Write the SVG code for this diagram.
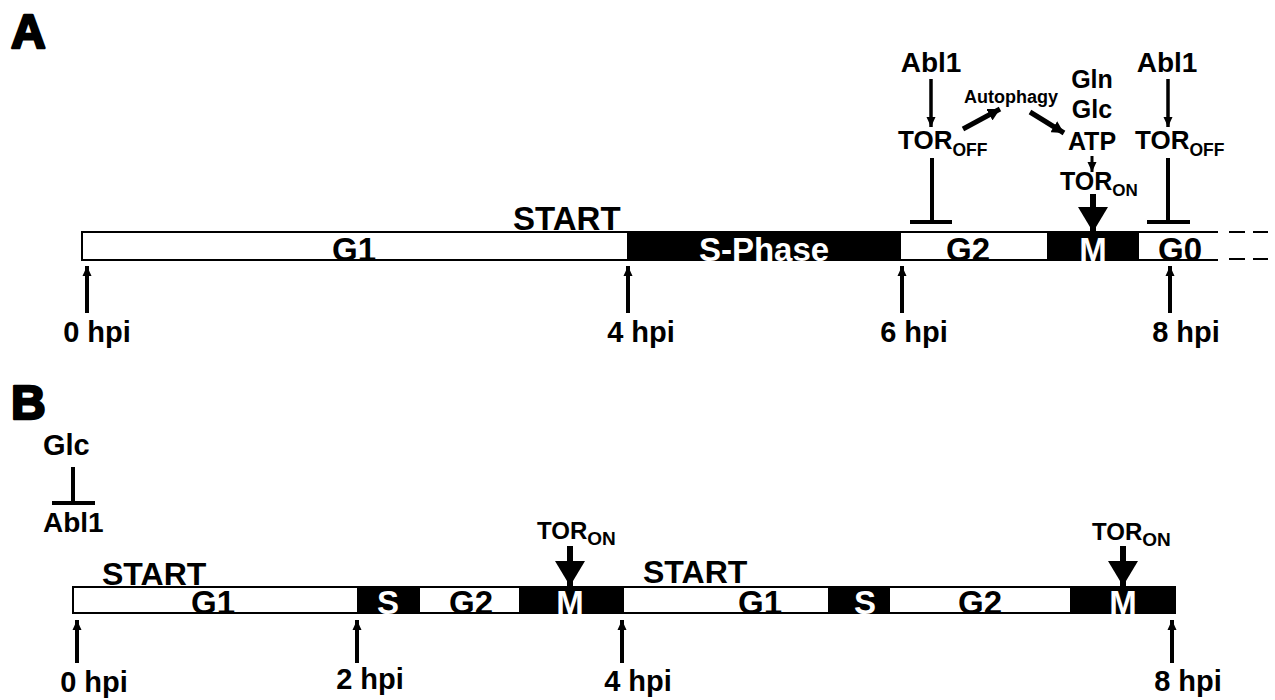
<svg xmlns="http://www.w3.org/2000/svg" width="1275" height="700" viewBox="0 0 1275 700">
<style>
text{font-family:"Liberation Sans",Arial,sans-serif;font-weight:bold;fill:#000}
.ph{font-size:33px;text-anchor:middle}
.w{fill:#fff}
.hpi{font-size:29px;text-anchor:middle}
.lbl{font-size:48px;stroke:#000;stroke-width:2.5;stroke-linejoin:round}
.ln{stroke:#000;fill:none}
.bar{stroke:#000;stroke-width:2;fill:none}
.dash{stroke:#000;stroke-width:2}
</style>
<defs>
<marker id="sm" markerUnits="userSpaceOnUse" markerWidth="10" markerHeight="10" refX="10" refY="5" orient="auto"><path d="M0,0.5 L10,5 L0,9.5 z" fill="#000"/></marker>
<marker id="md" markerUnits="userSpaceOnUse" markerWidth="13" markerHeight="13" refX="12" refY="6.5" orient="auto"><path d="M0,0 L12,6.5 L0,13 z" fill="#000"/></marker>
<marker id="big" markerUnits="userSpaceOnUse" markerWidth="26" markerHeight="30" refX="25" refY="15" orient="auto"><path d="M0,0 L25,15 L0,30 z" fill="#000"/></marker>
</defs>

<text class="lbl" x="11" y="48">A</text>
<text class="lbl" x="11" y="419">B</text>

<!-- Panel A bar -->
<g id="barA">
<rect x="82" y="232" width="1136" height="28" fill="#fff"/>
<rect x="627" y="232" width="274" height="28" fill="#000"/>
<rect x="1047" y="232" width="92" height="28" fill="#000"/>
<path class="bar" d="M1218,232 H82 V260 H1218"/>
<line class="dash" x1="1229" y1="232" x2="1245" y2="232"/>
<line class="dash" x1="1253" y1="232" x2="1268" y2="232"/>
<line class="dash" x1="1229" y1="259" x2="1245" y2="259"/>
<line class="dash" x1="1253" y1="259" x2="1268" y2="259"/>
</g>
<g id="phasesA">
<text class="ph" x="354" y="261">G1</text>
<text class="ph w" x="764" y="261">S-Phase</text>
<text class="ph" x="968" y="261">G2</text>
<text class="ph w" x="1093" y="261">M</text>
<text class="ph" x="1180" y="261">G0</text>
<text x="513" y="230" font-size="33">START</text>
</g>

<g id="nodesA">
<g id="abl1-a"><text x="931" y="72" font-size="28" text-anchor="middle">Abl1</text></g>
<g id="toroff-a"><text x="898" y="149" font-size="26">TOR<tspan font-size="17.5" dy="7">OFF</tspan></text></g>
<g id="autophagy"><text x="1011" y="103" font-size="18" text-anchor="middle">Autophagy</text></g>
<g id="gln"><text x="1092" y="88" font-size="25" text-anchor="middle">Gln</text></g>
<g id="glc-a"><text x="1092" y="118" font-size="25" text-anchor="middle">Glc</text></g>
<g id="atp"><text x="1092" y="150" font-size="25" text-anchor="middle">ATP</text></g>
<g id="toron-a"><text x="1060" y="190" font-size="25">TOR<tspan font-size="17" dy="6">ON</tspan></text></g>
<g id="abl1-b"><text x="1167" y="72" font-size="28" text-anchor="middle">Abl1</text></g>
<g id="toroff-b"><text x="1135" y="149" font-size="26">TOR<tspan font-size="17.5" dy="7">OFF</tspan></text></g>
</g>

<g id="connectorsA">
<line class="ln" stroke-width="3.5" x1="931" y1="79" x2="931" y2="127" marker-end="url(#sm)"/>
<line class="ln" stroke-width="3.5" x1="1168" y1="79" x2="1168" y2="127" marker-end="url(#sm)"/>
<line class="ln" stroke-width="4" x1="932" y1="158" x2="932" y2="222"/>
<line class="ln" stroke-width="4" x1="910" y1="222" x2="952" y2="222"/>
<line class="ln" stroke-width="4" x1="1168" y1="158" x2="1168" y2="222"/>
<line class="ln" stroke-width="4" x1="1147" y1="222" x2="1190" y2="222"/>
<line class="ln" stroke-width="5" x1="963" y1="129" x2="1000" y2="109" marker-end="url(#md)"/>
<line class="ln" stroke-width="5" x1="1030" y1="112" x2="1064" y2="133" marker-end="url(#md)"/>
<line class="ln" stroke-width="3" x1="1092" y1="156" x2="1092" y2="172" marker-end="url(#sm)"/>
<line class="ln" stroke-width="6" x1="1093" y1="194" x2="1093" y2="232" marker-end="url(#big)"/>
</g>

<g id="ticksA">
<line class="ln" stroke-width="4" x1="87" y1="313" x2="87" y2="266" marker-end="url(#sm)"/>
<line class="ln" stroke-width="4" x1="628" y1="313" x2="628" y2="266" marker-end="url(#sm)"/>
<line class="ln" stroke-width="4" x1="902" y1="313" x2="902" y2="266" marker-end="url(#sm)"/>
<line class="ln" stroke-width="4" x1="1170" y1="313" x2="1170" y2="266" marker-end="url(#sm)"/>
<text class="hpi" x="97" y="342">0 hpi</text>
<text class="hpi" x="641" y="342">4 hpi</text>
<text class="hpi" x="914" y="342">6 hpi</text>
<text class="hpi" x="1186" y="342">8 hpi</text>
</g>

<!-- Panel B -->
<g id="glc-abl1">
<text x="43" y="455" font-size="29">Glc</text>
<line class="ln" stroke-width="4" x1="73" y1="467" x2="73" y2="503"/>
<line class="ln" stroke-width="4" x1="52" y1="503" x2="95" y2="503"/>
<text x="43" y="532" font-size="28">Abl1</text>
</g>

<g id="barB">
<rect x="73" y="587" width="1102" height="26" fill="#fff"/>
<rect x="357" y="587" width="63" height="26" fill="#000"/>
<rect x="519" y="587" width="105" height="26" fill="#000"/>
<rect x="828" y="587" width="62" height="26" fill="#000"/>
<rect x="1070" y="587" width="105" height="26" fill="#000"/>
<rect class="bar" x="73" y="587" width="1102" height="26"/>
</g>
<g id="phasesB">
<text class="ph" font-size="32" x="213" y="614">G1</text>
<text class="ph w" font-size="32" x="388" y="614">S</text>
<text class="ph" font-size="32" x="471" y="614">G2</text>
<text class="ph w" font-size="32" x="570" y="614">M</text>
<text class="ph" font-size="32" x="760" y="614">G1</text>
<text class="ph w" font-size="32" x="865" y="614">S</text>
<text class="ph" font-size="32" x="980" y="614">G2</text>
<text class="ph w" font-size="32" x="1123" y="614">M</text>
<text x="102" y="585" font-size="32">START</text>
<text x="643" y="583" font-size="32">START</text>
</g>

<g id="nodesB">
<g id="toron-b1"><text x="537" y="539" font-size="24">TOR<tspan font-size="19" dy="6">ON</tspan></text></g>
<g id="toron-b2"><text x="1092" y="540" font-size="24">TOR<tspan font-size="19" dy="6">ON</tspan></text></g>
</g>

<g id="connectorsB">
<line class="ln" stroke-width="6" x1="570" y1="546" x2="570" y2="586" marker-end="url(#big)"/>
<line class="ln" stroke-width="6" x1="1123" y1="546" x2="1123" y2="586" marker-end="url(#big)"/>
<line class="ln" stroke-width="4" x1="77" y1="663" x2="77" y2="620" marker-end="url(#sm)"/>
<line class="ln" stroke-width="4" x1="357" y1="663" x2="357" y2="620" marker-end="url(#sm)"/>
<line class="ln" stroke-width="4" x1="622" y1="663" x2="622" y2="620" marker-end="url(#sm)"/>
<line class="ln" stroke-width="4" x1="1172" y1="663" x2="1172" y2="620" marker-end="url(#sm)"/>
</g>
<g id="hpiB">
<text class="hpi" x="94" y="692">0 hpi</text>
<text class="hpi" x="370" y="689">2 hpi</text>
<text class="hpi" x="638" y="691">4 hpi</text>
<text class="hpi" x="1188" y="691">8 hpi</text>
</g>
</svg>
